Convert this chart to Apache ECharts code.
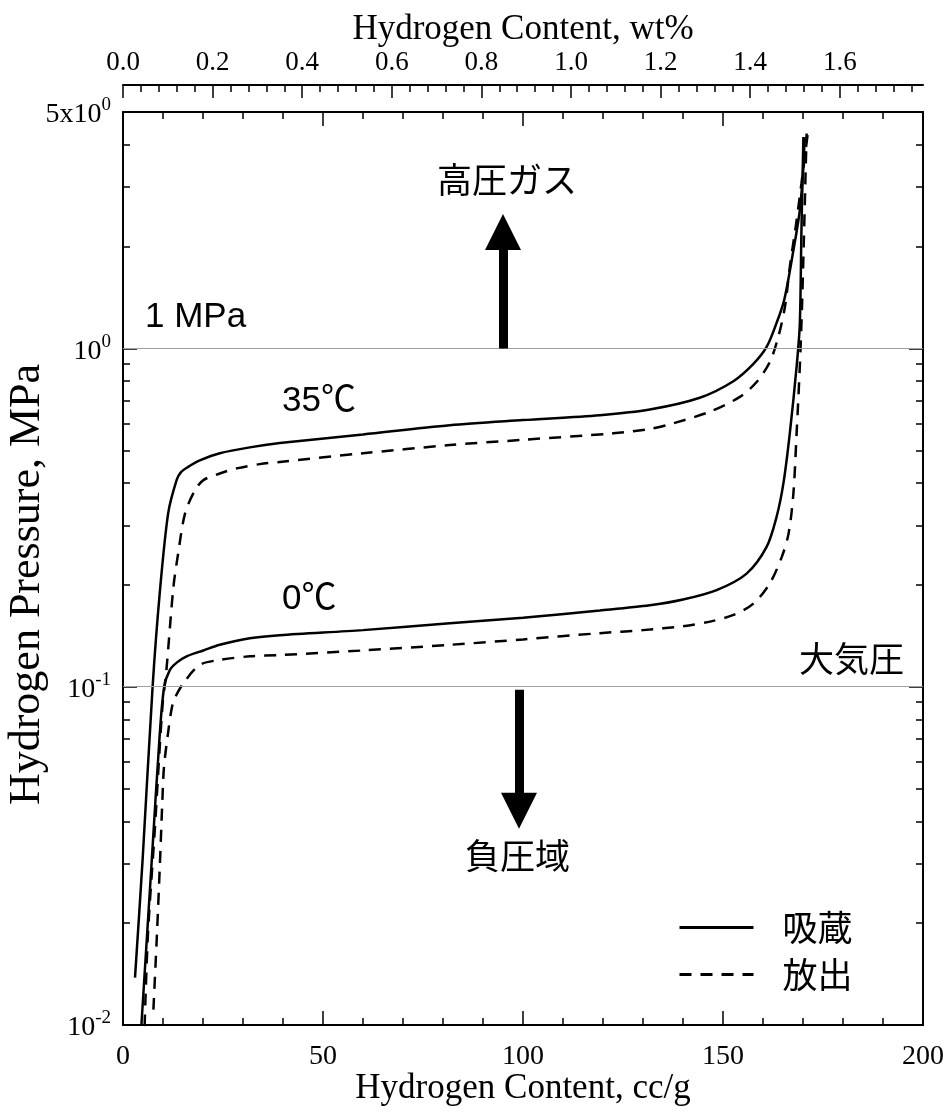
<!DOCTYPE html>
<html><head><meta charset="utf-8">
<script src="https://cdn.jsdelivr.net/npm/echarts@6.0.0/dist/echarts.min.js"></script>
<style>html,body{margin:0;padding:0;background:#fff}#c{width:946px;height:1113px}</style>
</head><body><div id="c"></div>
<script>
// ---- data (x: hydrogen content cc/g, p: pressure MPa) ----
const abs35X = [3.0, 4.9, 7.4, 9.2, 11.3, 13.4, 14.5, 16.2, 19.2, 24.2, 31.7, 39.2, 60, 81.7, 100, 119.2, 131.7, 144.2, 152.6, 157.6, 160.9, 163.4, 165.3, 167.6, 169.2, 170.1, 170.4];
const abs35P = [0.0138, 0.0308, 0.100, 0.190, 0.326, 0.408, 0.431, 0.446, 0.467, 0.490, 0.510, 0.525, 0.557, 0.593, 0.614, 0.635, 0.660, 0.715, 0.800, 0.900, 1.01, 1.19, 1.39, 1.95, 2.56, 3.44, 4.21];
const des35X = [5.4, 6.25, 7.9, 9.85, 10.85, 12.6, 13.8, 15.5, 18.0, 20.1, 24.2, 28.4, 34.2, 39.2, 60, 81.7, 100, 122.6, 131.7, 135.9, 146.7, 154.2, 158.4, 161.7, 163.8, 165.5, 166.7, 168.4, 169.6, 171.2];
const des35P = [0.0099, 0.0187, 0.037, 0.0873, 0.112, 0.197, 0.248, 0.325, 0.381, 0.408, 0.427, 0.442, 0.455, 0.462, 0.490, 0.518, 0.537, 0.561, 0.578, 0.593, 0.650, 0.719, 0.796, 0.912, 1.08, 1.33, 1.74, 2.39, 3.07, 4.33];
const abs0X = [4.6, 7.2, 9.2, 10.3, 11.7, 13.5, 15.9, 20.1, 24.2, 31.7, 39.2, 60, 81.7, 100, 119.2, 131.7, 140.0, 148.4, 155.9, 160.9, 163.4, 165.1, 166.7, 168.4, 169.2, 169.6, 170.1];
const abs0P = [0.0100, 0.0308, 0.0728, 0.100, 0.112, 0.118, 0.123, 0.128, 0.133, 0.139, 0.142, 0.147, 0.154, 0.160, 0.168, 0.174, 0.181, 0.193, 0.216, 0.259, 0.318, 0.399, 0.561, 0.883, 1.18, 2.19, 4.22];
const des0X = [7.6, 8.5, 9.2, 9.85, 10.25, 11.25, 12.1, 12.75, 15.0, 19.2, 24.2, 31.7, 39.2, 60, 81.7, 100, 119.2, 130.0, 140.0, 147.0, 152.6, 157.6, 161.7, 164.7, 166.4, 167.6, 168.4, 169.2, 169.8, 170.9];
const des0P = [0.0111, 0.0187, 0.0294, 0.0463, 0.058, 0.0728, 0.0853, 0.0914, 0.102, 0.116, 0.120, 0.123, 0.124, 0.128, 0.133, 0.138, 0.144, 0.147, 0.151, 0.156, 0.163, 0.176, 0.202, 0.242, 0.284, 0.373, 0.561, 0.883, 1.39, 4.32];

const ccTicks = [0, 50, 100, 150, 200];
const wtLabels = [0.0, 0.2, 0.4, 0.6, 0.8, 1.0, 1.2, 1.4, 1.6];
const ccPerWt = 112;
const pMajor = [0.01, 0.1, 1];
const pMax = 5;
const refLines = [1, 0.1];
const arrowUp = {x: 95, from: 1, to: 2.21};
const arrowDown = {x: 99, from: 0.098, to: 0.043};
const legendNames = ['吸蔵', '放出'];

// ---- helpers ----
const L = Math.log10;
const toPairs = (xs, ps) => xs.map((x, i) => [x, L(ps[i])]);
const pMinor = [];
for (let e = -2; e <= 0; e++) for (let k = 2; k <= 9; k++) { const v = k * Math.pow(10, e); if (v < pMax) pMinor.push(L(v)); }
const wtMinor = [];
for (let i = 0; i * 0.04 <= 200 / ccPerWt + 1e-9; i++) if (i % 5 !== 0) wtMinor.push(+(i * 0.04).toFixed(2));

const serif = 'Liberation Serif';
const sans = '"Liberation Sans", "Noto Sans CJK JP", sans-serif';
const jp = '"Noto Sans CJK JP", sans-serif';
const noZero = {onZero: false, lineStyle: {color: '#000', width: 2}};

const yCommon = {type: 'value', min: L(0.01), max: L(pMax), splitLine: {show: false}, nameMoveOverlap: false};
const chart = echarts.init(document.getElementById('c'));
const lineCol = '#000';
const smooth = 0.3;

chart.setOption({
  animation: false,
  backgroundColor: '#fff',
  grid: {left: 123, right: 23, top: 112, bottom: 88, containLabel: false, outerBoundsMode: 'none'},
  legend: {
    left: 673, top: 905, orient: 'vertical', itemWidth: 74, itemHeight: 14, itemGap: 12,
    data: legendNames,
    itemStyle: {opacity: 0},
    lineStyle: {width: 3},
    textStyle: {fontFamily: jp, fontSize: 35, color: '#000', padding: [0, 0, 0, 24]},
    selectedMode: false
  },
  xAxis: [
    {type: 'value', position: 'bottom', min: 0, max: 200, interval: 50, nameMoveOverlap: false,
     axisLine: noZero,
     axisTick: {inside: true, length: 14, customValues: ccTicks, lineStyle: {color: '#000', width: 1.5}},
     minorTick: {show: true, splitNumber: 5, length: 7, lineStyle: {color: '#000', width: 1.5}},
     axisLabel: {customValues: ccTicks, fontFamily: serif, fontSize: 28, color: '#000', margin: 18},
     splitLine: {show: false},
     name: 'Hydrogen Content, cc/g', nameLocation: 'middle', nameGap: 46,
     nameTextStyle: {fontFamily: serif, fontSize: 35, color: '#000'}},
    {type: 'value', position: 'top', min: 0, max: 200, interval: 50,
     axisLine: noZero,
     axisTick: {inside: true, length: 14, lineStyle: {color: '#000', width: 1.5}},
     minorTick: {show: true, splitNumber: 5, length: 7, lineStyle: {color: '#000', width: 1.5}},
     axisLabel: {show: false}, splitLine: {show: false}},
    {type: 'value', position: 'top', offset: 27, min: 0, max: 200 / ccPerWt, nameMoveOverlap: false,
     axisLine: noZero,
     axisTick: {inside: true, length: 13, customValues: wtLabels, lineStyle: {color: '#000', width: 1.5}},
     axisLabel: {customValues: wtLabels, formatter: v => v.toFixed(1), fontFamily: serif, fontSize: 27, color: '#000', margin: 9},
     splitLine: {show: false},
     name: 'Hydrogen Content, wt%', nameLocation: 'middle', nameGap: 38,
     nameTextStyle: {fontFamily: serif, fontSize: 35, color: '#000'}},
    {type: 'value', position: 'top', offset: 27, min: 0, max: 200 / ccPerWt,
     axisLine: {show: false, onZero: false},
     axisTick: {inside: true, length: 7, customValues: wtMinor, lineStyle: {color: '#000', width: 1.5}},
     axisLabel: {show: false}, splitLine: {show: false}}
  ],
  yAxis: [
    Object.assign({}, yCommon, {position: 'left',
     axisLine: noZero,
     axisTick: {inside: true, length: 14, customValues: pMajor.map(L), lineStyle: {color: '#000', width: 1.5}},
     axisLabel: {customValues: pMajor.map(L).concat([L(pMax)]), margin: 12,
       formatter: v => Math.abs(v - L(pMax)) < 1e-6 ? '{b|5x10}{s|0}' : '{b|10}{s|' + Math.round(v) + '}',
       rich: {b: {fontFamily: serif, fontSize: 28, color: '#000', lineHeight: 32, padding: [6, 0, 0, 0]},
              s: {fontFamily: serif, fontSize: 19, color: '#000', verticalAlign: 'top', lineHeight: 19}}},
     name: 'Hydrogen Pressure, MPa', nameLocation: 'middle', nameGap: 74, nameRotate: 90,
     nameTextStyle: {fontFamily: serif, fontSize: 44, color: '#000', padding: [0, 32, 0, 0]}}),
    Object.assign({}, yCommon, {position: 'left', axisLine: {show: false, onZero: false},
     axisTick: {inside: true, length: 7, customValues: pMinor, lineStyle: {color: '#000', width: 1.5}},
     axisLabel: {show: false}}),
    Object.assign({}, yCommon, {position: 'right',
     axisLine: noZero,
     axisTick: {inside: true, length: 14, customValues: pMajor.map(L), lineStyle: {color: '#000', width: 1.5}},
     axisLabel: {show: false}}),
    Object.assign({}, yCommon, {position: 'right', axisLine: {show: false, onZero: false},
     axisTick: {inside: true, length: 7, customValues: pMinor, lineStyle: {color: '#000', width: 1.5}},
     axisLabel: {show: false}})
  ],
  series: [
    {name: legendNames[0], type: 'line', data: toPairs(abs35X, abs35P), symbol: 'none', clip: true, smooth: smooth,
     lineStyle: {color: lineCol, width: 2.5}, itemStyle: {color: lineCol},
     markLine: {silent: true, symbol: 'none', label: {show: false},
       lineStyle: {color: '#a0a0a0', width: 1, type: 'solid'},
       data: refLines.map(p => ({yAxis: L(p)}))}},
    {name: legendNames[1], type: 'line', data: toPairs(des35X, des35P), symbol: 'none', clip: true, smooth: smooth,
     lineStyle: {color: lineCol, width: 2.5, type: [12, 9]}, itemStyle: {color: lineCol}},
    {name: legendNames[0], type: 'line', data: toPairs(abs0X, abs0P), symbol: 'none', clip: true, smooth: smooth,
     lineStyle: {color: lineCol, width: 2.5}, itemStyle: {color: lineCol},
     markLine: {silent: true, label: {show: false},
       lineStyle: {color: '#000', width: 9, type: 'solid'},
       data: [
         [{coord: [arrowUp.x, L(arrowUp.from)], symbol: 'none'},
          {coord: [arrowUp.x, L(arrowUp.to)], symbol: 'triangle', symbolSize: [36, 36]}],
         [{coord: [arrowDown.x, L(arrowDown.from)], symbol: 'none'},
          {coord: [arrowDown.x, L(arrowDown.to)], symbol: 'triangle', symbolSize: [36, 36]}]
       ]}},
    {name: legendNames[1], type: 'line', data: toPairs(des0X, des0P), symbol: 'none', clip: true, smooth: smooth,
     lineStyle: {color: lineCol, width: 2.5, type: [12, 9]}, itemStyle: {color: lineCol}}
  ],
  graphic: [
    {type: 'text', left: 437, top: 162, style: {text: '高圧ガス', font: '35px ' + jp, fill: '#000'}},
    {type: 'text', left: 145, top: 300, style: {text: '1 MPa', font: '35px ' + sans, fill: '#000'}},
    {type: 'text', left: 282, top: 384, style: {text: '35℃', font: '35px ' + sans, fill: '#000'}},
    {type: 'text', left: 282, top: 582, style: {text: '0℃', font: '35px ' + sans, fill: '#000'}},
    {type: 'text', left: 799, top: 641, style: {text: '大気圧', font: '35px ' + jp, fill: '#000'}},
    {type: 'text', left: 465, top: 838, style: {text: '負圧域', font: '35px ' + jp, fill: '#000'}}
  ]
});
</script></body></html>
